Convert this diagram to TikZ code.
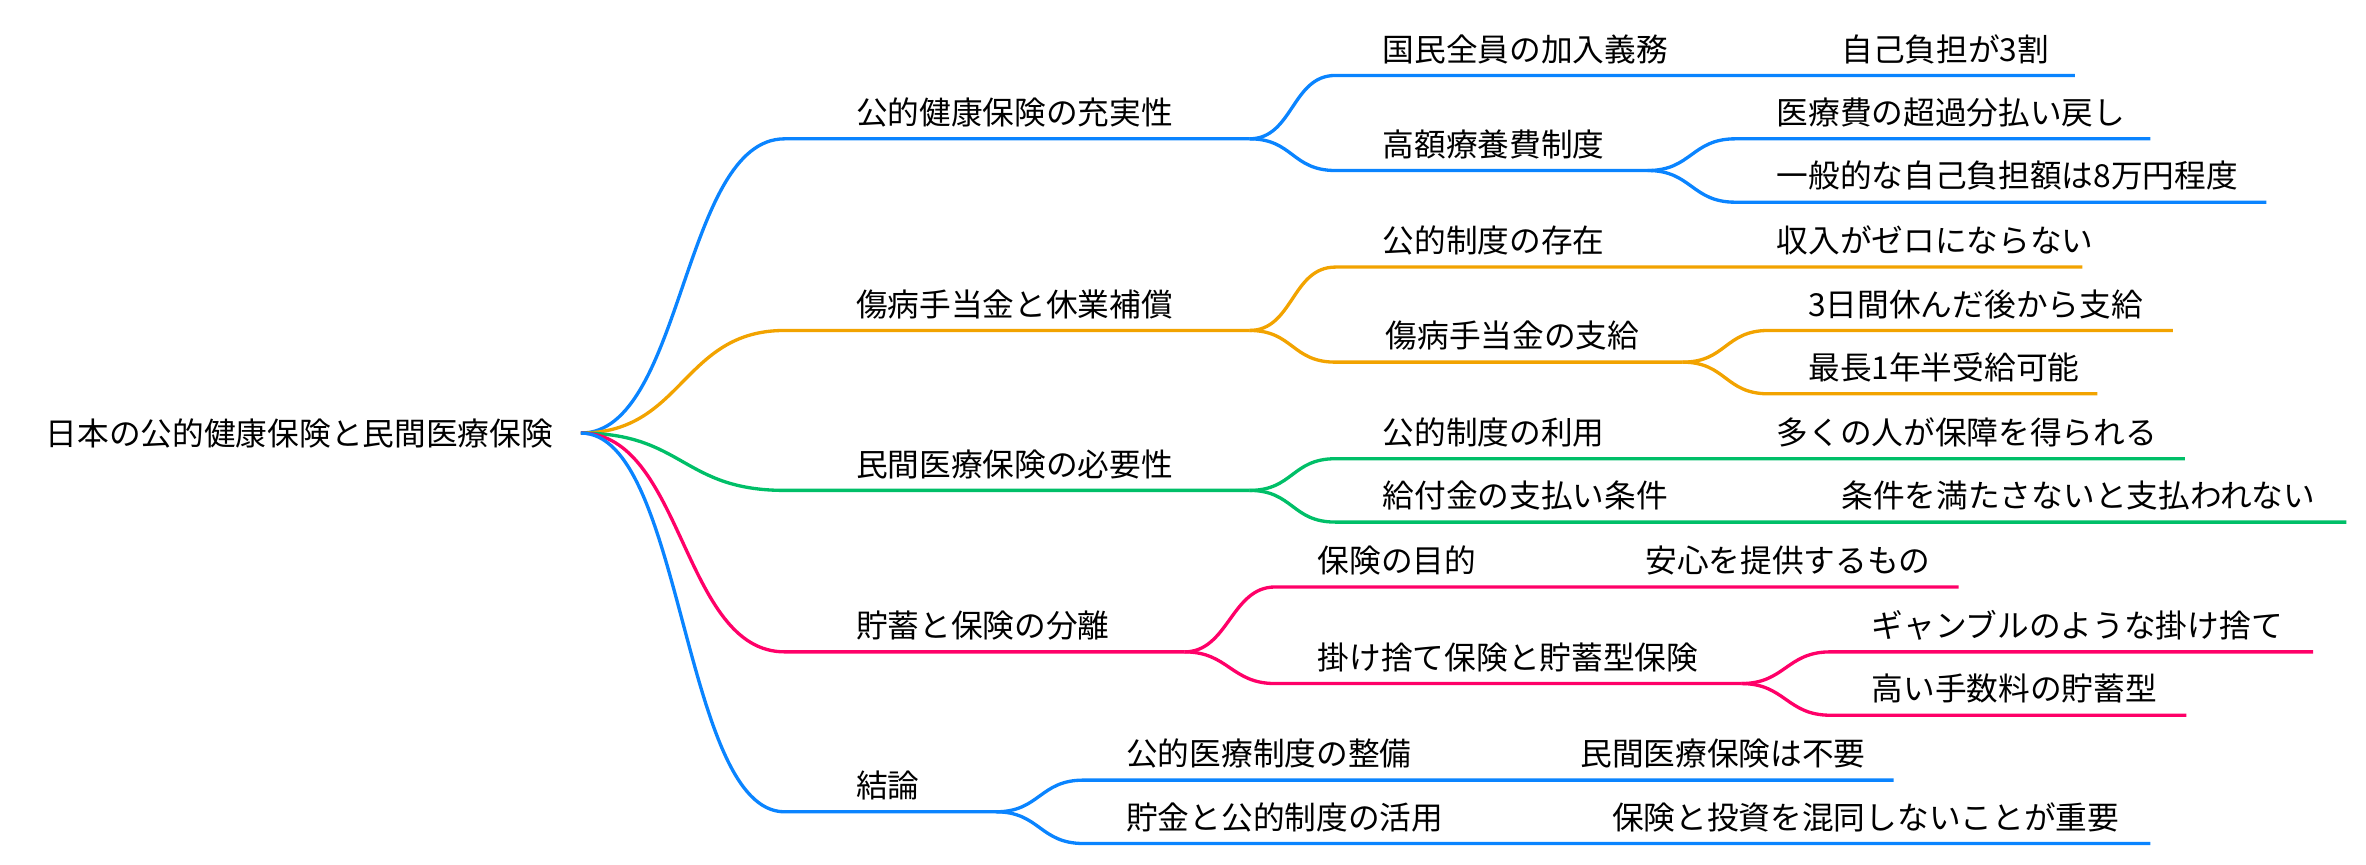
\documentclass[tikz,border=0pt]{standalone}
\usepackage{fontspec}
\newfontfamily\jp{Noto Sans CJK JP}
\definecolor{mapblue}{HTML}{0A84FF}
\definecolor{maporange}{HTML}{F2A300}
\definecolor{mapgreen}{HTML}{00BF68}
\definecolor{mappink}{HTML}{FF0068}
\begin{document}
\begin{tikzpicture}
    [
        x = 0.5pt, y = -0.5pt,
        every node/.style = {inner sep=0pt, font=\jp\fontsize{10.5}{12}\selectfont},
        topic/.style = {anchor=base west, yshift=4.75pt},
        branch/.style = {line width=1.1pt},
        sflow/.style = {out=0, in=180, distance=#1},
        sflow/.default = 14.5pt
    ]
    \useasboundingbox (0,0) rectangle (1568,572.6);

    \node[anchor=west] (root) at (30,287) {日本の公的健康保険と民間医療保険};
    \coordinate (r) at (385,287);

    % first level
    \coordinate (hk-s) at (520,92);  \coordinate (hk-e) at (828,92);
    \coordinate (sb-s) at (520,219); \coordinate (sb-e) at (828,219);
    \coordinate (mi-s) at (520,325); \coordinate (mi-e) at (828,325);
    \coordinate (cz-s) at (520,432); \coordinate (cz-e) at (785,432);
    \coordinate (kr-s) at (520,538); \coordinate (kr-e) at (660,538);
    \node[topic] (hk) at (567,92)  {公的健康保険の充実性};
    \node[topic] (sb) at (567,219) {傷病手当金と休業補償};
    \node[topic] (mi) at (567,325) {民間医療保険の必要性};
    \node[topic] (cz) at (567,432) {貯蓄と保険の分離};
    \node[topic] (kr) at (567,538) {結論};

    % second and third level
    \coordinate (hk1-s) at (885,50);   \coordinate (hk1-e) at (1190,50);  \coordinate (hk1a-e) at (1375,50);
    \coordinate (hk2-s) at (885,113);  \coordinate (hk2-e) at (1092,113);
    \coordinate (hk2a-s) at (1150,92); \coordinate (hk2a-e) at (1425,92);
    \coordinate (hk2b-s) at (1150,134);\coordinate (hk2b-e) at (1502,134);
    \node[topic] (hk1)  at (916,50)   {国民全員の加入義務};
    \node[topic] (hk1a) at (1220,50)  {自己負担が3割};
    \node[topic] (hk2)  at (916,113)  {高額療養費制度};
    \node[topic] (hk2a) at (1177,92)  {医療費の超過分払い戻し};
    \node[topic] (hk2b) at (1177,134) {一般的な自己負担額は8万円程度};

    \coordinate (sb1-s) at (885,177);  \coordinate (sb1-e) at (1150,177); \coordinate (sb1a-e) at (1380,177);
    \coordinate (sb2-s) at (885,240);  \coordinate (sb2-e) at (1115,240);
    \coordinate (sb2a-s) at (1172,219);\coordinate (sb2a-e) at (1440,219);
    \coordinate (sb2b-s) at (1172,261);\coordinate (sb2b-e) at (1390,261);
    \node[topic] (sb1)  at (916,177)  {公的制度の存在};
    \node[topic] (sb1a) at (1177,177) {収入がゼロにならない};
    \node[topic] (sb2)  at (918,240)  {傷病手当金の支給};
    \node[topic] (sb2a) at (1198,219) {3日間休んだ後から支給};
    \node[topic] (sb2b) at (1198,261) {最長1年半受給可能};

    \coordinate (mi1-s) at (885,304);  \coordinate (mi1-e) at (1150,304); \coordinate (mi1a-e) at (1448,304);
    \coordinate (mi2-s) at (885,346);  \coordinate (mi2-e) at (1190,346); \coordinate (mi2a-e) at (1555,346);
    \node[topic] (mi1)  at (916,304)  {公的制度の利用};
    \node[topic] (mi1a) at (1177,304) {多くの人が保障を得られる};
    \node[topic] (mi2)  at (916,346)  {給付金の支払い条件};
    \node[topic] (mi2a) at (1220,346) {条件を満たさないと支払われない};

    \coordinate (cz1-s) at (845,389);  \coordinate (cz1-e) at (1060,389); \coordinate (cz1a-e) at (1298,389);
    \coordinate (cz2-s) at (845,453);  \coordinate (cz2-e) at (1154,453);
    \coordinate (cz2a-s) at (1213,432);\coordinate (cz2a-e) at (1533,432);
    \coordinate (cz2b-s) at (1213,474);\coordinate (cz2b-e) at (1449,474);
    \node[topic] (cz1)  at (873,389)  {保険の目的};
    \node[topic] (cz1a) at (1090,389) {安心を提供するもの};
    \node[topic] (cz2)  at (873,453)  {掛け捨て保険と貯蓄型保険};
    \node[topic] (cz2a) at (1240,432) {ギャンブルのような掛け捨て};
    \node[topic] (cz2b) at (1240,474) {高い手数料の貯蓄型};

    \coordinate (kr1-s) at (718,517);  \coordinate (kr1-e) at (1020,517); \coordinate (kr1a-e) at (1255,517);
    \coordinate (kr2-s) at (718,559);  \coordinate (kr2-e) at (1040,559); \coordinate (kr2a-e) at (1425,559);
    \node[topic] (kr1)  at (746,517)  {公的医療制度の整備};
    \node[topic] (kr1a) at (1047,517) {民間医療保険は不要};
    \node[topic] (kr2)  at (746,559)  {貯金と公的制度の活用};
    \node[topic] (kr2a) at (1068,559) {保険と投資を混同しないことが重要};

    % connectors
    \draw[branch, mapblue] (r) to[sflow=34pt] (hk-s) -- (hk-e);
    \draw[branch, mapblue] (hk-e) to[sflow] (hk1-s) -- (hk1-e) -- (hk1a-e);
    \draw[branch, mapblue] (hk-e) to[sflow] (hk2-s) -- (hk2-e);
    \draw[branch, mapblue] (hk2-e) to[sflow] (hk2a-s) -- (hk2a-e);
    \draw[branch, mapblue] (hk2-e) to[sflow] (hk2b-s) -- (hk2b-e);

    \draw[branch, maporange] (r) to[sflow=34pt] (sb-s) -- (sb-e);
    \draw[branch, maporange] (sb-e) to[sflow] (sb1-s) -- (sb1-e) -- (sb1a-e);
    \draw[branch, maporange] (sb-e) to[sflow] (sb2-s) -- (sb2-e);
    \draw[branch, maporange] (sb2-e) to[sflow] (sb2a-s) -- (sb2a-e);
    \draw[branch, maporange] (sb2-e) to[sflow] (sb2b-s) -- (sb2b-e);

    \draw[branch, mapgreen] (r) to[sflow=34pt] (mi-s) -- (mi-e);
    \draw[branch, mapgreen] (mi-e) to[sflow] (mi1-s) -- (mi1-e) -- (mi1a-e);
    \draw[branch, mapgreen] (mi-e) to[sflow] (mi2-s) -- (mi2-e) -- (mi2a-e);

    \draw[branch, mappink] (r) to[sflow=34pt] (cz-s) -- (cz-e);
    \draw[branch, mappink] (cz-e) to[sflow] (cz1-s) -- (cz1-e) -- (cz1a-e);
    \draw[branch, mappink] (cz-e) to[sflow] (cz2-s) -- (cz2-e);
    \draw[branch, mappink] (cz2-e) to[sflow] (cz2a-s) -- (cz2a-e);
    \draw[branch, mappink] (cz2-e) to[sflow] (cz2b-s) -- (cz2b-e);

    \draw[branch, mapblue] (r) to[sflow=34pt] (kr-s) -- (kr-e);
    \draw[branch, mapblue] (kr-e) to[sflow] (kr1-s) -- (kr1-e) -- (kr1a-e);
    \draw[branch, mapblue] (kr-e) to[sflow] (kr2-s) -- (kr2-e) -- (kr2a-e);
\end{tikzpicture}
\end{document}
